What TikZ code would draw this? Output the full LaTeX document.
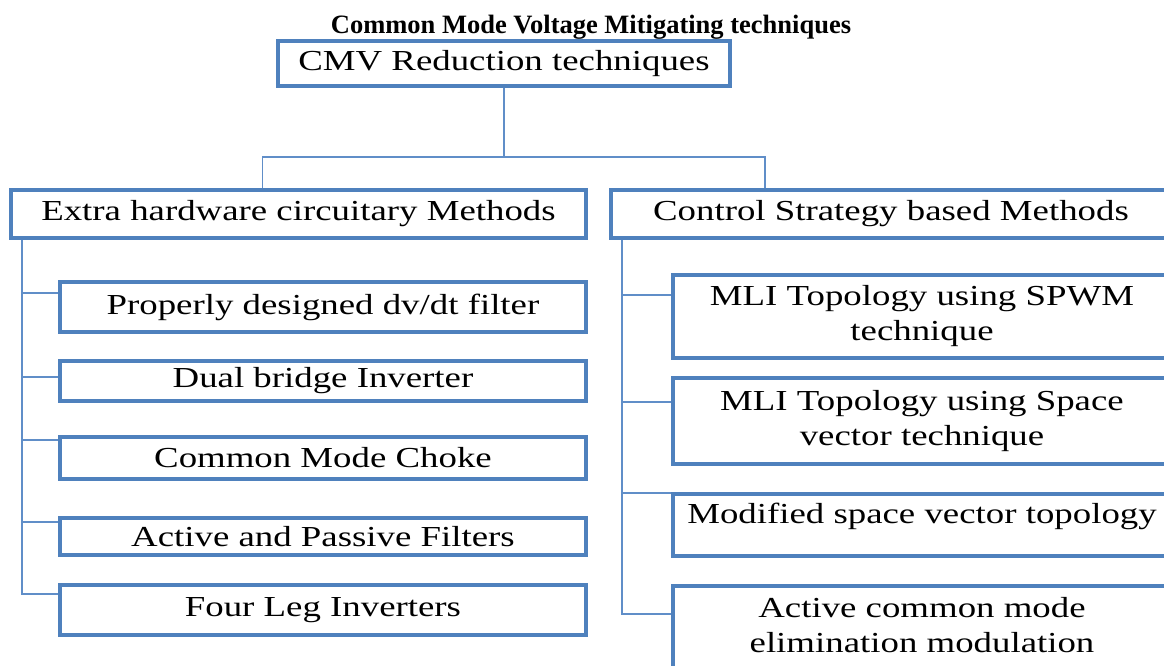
\documentclass[tikz,border=0pt]{standalone}
\usepackage{fontspec}
\setmainfont{Liberation Serif}
\newfontfamily\boxfont[FakeStretch=1.27]{Liberation Serif}
\definecolor{boxblue}{RGB}{79,129,189}
\definecolor{linkblue}{RGB}{96,142,200}
\begin{document}
\begin{tikzpicture}[x=1pt,y=-1pt,
	box/.style={draw=boxblue,line width=4pt,inner sep=0pt,align=center,font=\boxfont\fontsize{29}{35}\selectfont},
	link/.style={draw=linkblue,line width=1.5pt}]
	\useasboundingbox (0,0) rectangle (1164,665);
	\clip (0,0) rectangle (1164,665);
	\node[anchor=base,font=\bfseries\fontsize{26.5}{30}\selectfont] (title) at (591,33) {Common Mode Voltage Mitigating techniques};
	\node[box,minimum width=452,minimum height=45] (cmv) at (504,63.5) {CMV Reduction techniques};
	\node[box,minimum width=575,minimum height=48] (extra) at (298.5,214) {Extra hardware circuitary Methods};
	\node[box,minimum width=560,minimum height=48] (ctrl) at (891,214) {Control Strategy based Methods};
	\node[box,minimum width=526,minimum height=50] (dvdt) at (323,307) {Properly designed dv/dt filter};
	\node[box,minimum width=526,minimum height=40] (dual) at (323,381) {Dual bridge Inverter};
	\node[box,minimum width=526,minimum height=42] (choke) at (323,458) {Common Mode Choke};
	\node[box,minimum width=526,minimum height=37] (filt) at (323,536.5) {Active and Passive Filters};
	\node[box,minimum width=526,minimum height=50] (four) at (323,610) {Four Leg Inverters};
	\node[box,minimum width=498,minimum height=83] (spwm) at (922,316.5) {MLI Topology using SPWM\\technique};
	\node[box,minimum width=498,minimum height=86] (svm) at (922,421) {MLI Topology using Space\\vector technique};
	\node[box,minimum width=498,minimum height=62,text height=21pt,text depth=24pt] (msv) at (922,525) {Modified space vector topology};
	\node[box,minimum width=498,minimum height=88,text depth=10pt] (acme) at (922,630) {Active common mode\\elimination modulation};
	\coordinate (bus) at (504,157);
	\draw[link] (cmv.south) -- (bus);
	\draw[link] ([xshift=-36]extra.north) |- (bus) -| ([xshift=-126]ctrl.north);
	\coordinate (spL) at ([xshift=13]extra.south west);
	\coordinate (spR) at ([xshift=13]ctrl.south west);
	\path ([yshift=-13]dvdt.north west) coordinate (dvdtj)
		([yshift=-18]dual.north west) coordinate (dualj)
		([yshift=-5]choke.north west) coordinate (chokej)
		([yshift=-6]filt.north west) coordinate (filtj)
		([yshift=-11]four.north west) coordinate (fourj);
	\path ([yshift=-22]spwm.north west) coordinate (spwmj)
		([yshift=-26]svm.north west) coordinate (svmj)
		([yshift=-1]msv.north west) coordinate (msvj)
		([yshift=-30]acme.north west) coordinate (acmej);
	\draw[link] (spL) |- (fourj);
	\draw[link] (spL |- dvdtj) -- (dvdtj);
	\draw[link] (spL |- dualj) -- (dualj);
	\draw[link] (spL |- chokej) -- (chokej);
	\draw[link] (spL |- filtj) -- (filtj);
	\draw[link] (spR) |- (acmej);
	\draw[link] (spR |- spwmj) -- (spwmj);
	\draw[link] (spR |- svmj) -- (svmj);
	\draw[link] (spR |- msvj) -- (msvj);
\end{tikzpicture}
\end{document}
